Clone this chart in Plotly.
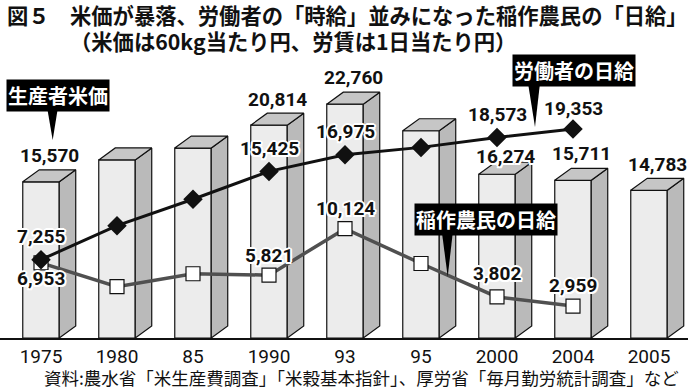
import plotly.graph_objects as go

# ---------------- data ----------------
categories = ["1975", "1980", "85", "1990", "93", "95", "2000", "2004", "2005"]
rice_price = [15570, 17600, 18700, 20814, 22760, 20300, 16274, 15711, 14783]   # 生産者米価 (円/60kg)
worker_wage = [7255, 10400, 12850, 15425, 16975, 17650, 18573, 19353, None]   # 労働者の日給
farmer_wage = [6953, 4750, 5950, 5821, 10124, 6900, 3802, 2959, None]         # 稲作農民の日給
rice_labeled = [True, False, False, True, True, False, True, True, True]
worker_labeled = [True, False, False, True, True, False, True, True, False]
farmer_labeled = [True, False, False, True, True, False, True, True, False]

# ---------------- layout constants ----------------
W, H = 688, 388
T, B = 68, 50
YMAX = 25000
X0 = -41 / 76
X1 = X0 + W / 76
BAR_W = 0.48
DX = 0.217
DY = 1111

JP = "Noto Sans CJK JP, Noto Sans, sans-serif"
NARROW = "Roboto, Liberation Sans Narrow, DejaVu Sans Condensed, sans-serif"
HALO = ("-1.5px -1.5px 0 #fff, 1.5px -1.5px 0 #fff, -1.5px 1.5px 0 #fff, 1.5px 1.5px 0 #fff, "
        "0 2px 0 #fff, 0 -2px 0 #fff, 2px 0 0 #fff, -2px 0 0 #fff")


def px2paper(px, py):
    return px / W, (H - B - py) / (H - T - B)


x = list(range(len(categories)))
fig = go.Figure()

# front faces
front = [v - DY for v in rice_price]
fig.add_trace(go.Bar(x=x, y=front, width=BAR_W,
                     marker=dict(color="#ececec", line=dict(color="#111", width=1.2)),
                     hoverinfo="skip", showlegend=False))

# side faces
sx, sy = [], []
for i, v in enumerate(rice_price):
    xr = i + BAR_W / 2
    sx += [xr, xr, xr + DX, xr + DX, xr, None]
    sy += [0, v - DY, v, DY, 0, None]
fig.add_trace(go.Scatter(x=sx, y=sy, mode="lines", fill="toself", fillcolor="#bababa",
                         line=dict(color="#111", width=1.2), hoverinfo="skip", showlegend=False))
# top faces
tx, ty = [], []
for i, v in enumerate(rice_price):
    xl = i - BAR_W / 2
    xr = i + BAR_W / 2
    tx += [xl, xl + DX, xr + DX, xr, xl, None]
    ty += [v - DY, v, v, v - DY, v - DY, None]
fig.add_trace(go.Scatter(x=tx, y=ty, mode="lines", fill="toself", fillcolor="#c6c6c6",
                         line=dict(color="#111", width=1.2), hoverinfo="skip", showlegend=False))

# lines
fig.add_trace(go.Scatter(x=x, y=farmer_wage, mode="lines+markers",
                         line=dict(color="#505050", width=3.5),
                         marker=dict(symbol="square", size=14, color="white",
                                     line=dict(color="#111", width=1.2)),
                         hoverinfo="skip", showlegend=False))
fig.add_trace(go.Scatter(x=x, y=worker_wage, mode="lines+markers",
                         line=dict(color="#111", width=3),
                         marker=dict(symbol="diamond", size=15, color="#111"),
                         hoverinfo="skip", showlegend=False))

num_font = dict(family=NARROW, size=19, color="#111", weight="bold", shadow=HALO)
ann = []
rice_shift = [14, 0, 0, 14, 15, 0, 6, 15, 14]
for i, v in enumerate(rice_price):
    if rice_labeled[i]:
        ann.append(dict(x=i + DX / 2, y=v, text=f"{v:,}", showarrow=False, yanchor="middle",
                        yshift=rice_shift[i], font=num_font))
worker_shift = [23, 0, 0, 23, 23, 0, 23, 20, 0]
for i, v in enumerate(worker_wage):
    if worker_labeled[i]:
        ann.append(dict(x=i, y=v, text=f"{v:,}", showarrow=False, yanchor="middle",
                        yshift=worker_shift[i], font=num_font))
farmer_shift = [-16, 0, 0, 20, 20, 0, 23, 21, 0]
for i, v in enumerate(farmer_wage):
    if farmer_labeled[i]:
        ann.append(dict(x=i, y=v, text=f"{v:,}", showarrow=False, yanchor="middle",
                        yshift=farmer_shift[i], font=num_font))

# callouts (box center px, pointer base x0, x1, base y, tip x, tip y)
callouts = [
    ("生産者米価", 57.9, 95, 47, 58, 108, 52.7, 140),
    ("労働者の日給", 573.7, 71, 528, 540, 84, 535, 127),
    ("稲作農民の日給", 486, 219.7, 441.7, 453, 231.7, 447.7, 276.7),
]
shapes = []
for text, cx, cy, b0, b1, by, tipx, tipy in callouts:
    px_, py_ = px2paper(cx, cy)
    ann.append(dict(x=px_, y=py_, xref="paper", yref="paper", text=text, showarrow=False,
                    xanchor="center", yanchor="middle", bgcolor="#000", borderpad=1,
                    font=dict(family=JP, size=20, color="white", weight="bold")))
    p0 = px2paper(b0, by - 1)
    p1 = px2paper(b1, by - 1)
    p2 = px2paper(tipx, tipy)
    shapes.append(dict(type="path", xref="paper", yref="paper",
                       path=f"M {p0[0]} {p0[1]} L {p1[0]} {p1[1]} L {p2[0]} {p2[1]} Z",
                       fillcolor="#000", line=dict(width=0)))

# titles
t_font = dict(family=JP, size=21.3, color="#111", weight="bold")
for text, px_, py_ in [("図５", 5, 14),
                       ("米価が暴落、労働者の「時給」並みになった稲作農民の「日給」", 68, 14),
                       ("（米価は60kg当たり円、労賃は1日当たり円）", 68, 41)]:
    a, b = px2paper(px_, py_)
    ann.append(dict(x=a, y=b, xref="paper", yref="paper", text=text, showarrow=False,
                    xanchor="left", yanchor="middle", font=t_font))
a, b = px2paper(42, 377)
ann.append(dict(x=a, y=b, xref="paper", yref="paper",
                text="資料:農水省「米生産費調査」「米穀基本指針」、厚労省「毎月勤労統計調査」など",
                showarrow=False, xanchor="left", yanchor="middle",
                font=dict(family=JP, size=17.5, color="#111")))

fig.update_layout(
    width=W, height=H,
    margin=dict(l=0, r=0, t=T, b=B),
    paper_bgcolor="white", plot_bgcolor="white",
    showlegend=False,
    bargap=0,
    annotations=ann,
    shapes=shapes,
    xaxis=dict(range=[X0, X1], tickvals=x, ticktext=categories, showgrid=False, zeroline=False,
               showline=True, linecolor="#111", linewidth=2, ticks="", automargin=False,
               tickfont=dict(family=NARROW, size=19, color="#111")),
    yaxis=dict(range=[0, YMAX], visible=False, automargin=False),
)
fig.write_html("out.html", config={"displayModeBar": False, "staticPlot": True})

# remove the browser's default page margin so the figure sits at (0, 0)
with open("out.html", encoding="utf-8") as f:
    html = f.read()
html = html.replace("<body>", '<body style="margin:0;padding:0;overflow:hidden">', 1)
with open("out.html", "w", encoding="utf-8") as f:
    f.write(html)
